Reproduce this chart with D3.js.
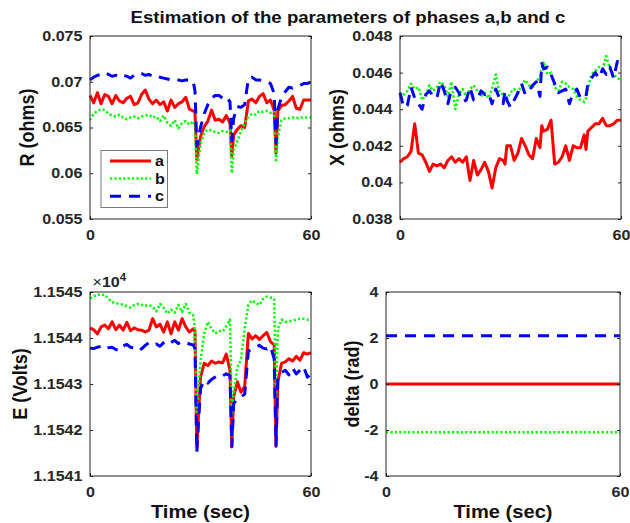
<!DOCTYPE html>
<html>
<head>
<meta charset="utf-8">
<script src="https://cdn.jsdelivr.net/npm/d3@7"></script>
<style>
  body { margin: 0; background: #fff; }
  svg { display: block; }
  text { font-family: "Liberation Sans", Arial, Helvetica, sans-serif; }
</style>
</head>
<body>
<svg id="chart" width="630" height="523"></svg>
<script>
// ---- sample times (sec) shared by the R, X and E estimates ----
const time = [0,1,2,3,4,5,6,7,8,9,10,11,12,13,14,15,16,17,18,19,20,21,22,23,24,25,26,27,28,28.5,
  29,30,31,32,33,34,35,36,37,38,38.5,39,40,41,42,43,44,45,46,47,48,49,50,50.5,51,52,53,54,55,56,57,58,59,60];

// ---- resistance R (ohms) per phase ----
const rA = [0.0685,0.0677,0.0688,0.0676,0.0686,0.0684,0.0676,0.0685,0.0679,0.0677,0.0682,0.0684,0.0675,0.0677,0.0686,
  0.0691,0.0681,0.0676,0.0680,0.0675,0.0678,0.0668,0.0680,0.0672,0.0676,0.0678,0.0683,0.0670,0.0668,0.0667,
  0.0615,0.0640,0.0651,0.0657,0.0669,0.0658,0.0659,0.0656,0.0663,0.0655,0.0619,
  0.0642,0.0648,0.0652,0.0650,0.0679,0.0681,0.0677,0.0684,0.0687,0.0677,0.0680,0.0669,0.0622,
  0.0668,0.0674,0.0675,0.0679,0.0684,0.0671,0.0670,0.0680,0.0680,0.0680];
const rB = [0.0658,0.0665,0.0668,0.0670,0.0669,0.0665,0.0663,0.0662,0.0664,0.0661,0.0659,0.0661,0.0662,0.0660,0.0662,
  0.0663,0.0664,0.0661,0.0662,0.0657,0.0663,0.0655,0.0652,0.0658,0.0649,0.0655,0.0657,0.0653,0.0657,0.0652,
  0.0599,0.0632,0.0644,0.0648,0.0647,0.0645,0.0644,0.0646,0.0645,0.0647,0.0600,
  0.0625,0.0635,0.0646,0.0655,0.0662,0.0665,0.0664,0.0668,0.0667,0.0668,0.0666,0.0668,0.0612,
  0.0640,0.0658,0.0660,0.0660,0.0661,0.0660,0.0661,0.0661,0.0661,0.0661];
const rC = [0.0702,0.0705,0.0707,0.0708,0.0710,0.0708,0.0706,0.0707,0.0705,0.0707,0.0706,0.0704,0.0707,0.0709,0.0709,
  0.0707,0.0708,0.0706,0.0707,0.0705,0.0704,0.0703,0.0702,0.0703,0.0702,0.0701,0.0702,0.0702,0.0701,0.0690,
  0.0630,0.0650,0.0665,0.0675,0.0682,0.0685,0.0685,0.0682,0.0684,0.0678,0.0636,
  0.0660,0.0673,0.0672,0.0675,0.0704,0.0705,0.0702,0.0702,0.0701,0.0700,0.0698,0.0687,0.0633,
  0.0670,0.0683,0.0689,0.0694,0.0693,0.0695,0.0696,0.0698,0.0698,0.0700];

// ---- reactance X (ohms) per phase ----
const xA = [0.0411,0.0413,0.0414,0.0417,0.0432,0.0416,0.0415,0.0411,0.0406,0.0410,0.0409,0.0410,0.0408,0.0412,0.0414,
  0.0411,0.0413,0.0411,0.0414,0.0401,0.0412,0.0404,0.0407,0.0411,0.0406,0.0397,0.0408,0.0413,0.0412,0.0410,
  0.0420,0.0420,0.0412,0.0416,0.0424,0.0420,0.0415,0.0413,0.0424,0.0419,0.0431,
  0.0428,0.0429,0.0434,0.0410,0.0411,0.0414,0.0420,0.0412,0.0420,0.0419,0.0419,0.0426,0.0418,
  0.0428,0.0430,0.0432,0.0432,0.0435,0.0431,0.0431,0.0432,0.0434,0.0434];
const xB = [0.0446,0.0448,0.0450,0.0454,0.0451,0.0452,0.0445,0.0448,0.0453,0.0450,0.0452,0.0455,0.0453,0.0447,0.0455,
  0.0440,0.0448,0.0451,0.0447,0.0451,0.0453,0.0450,0.0447,0.0449,0.0446,0.0451,0.0459,0.0449,0.0448,0.0446,
  0.0445,0.0449,0.0451,0.0449,0.0453,0.0456,0.0453,0.0452,0.0455,0.0458,0.0463,
  0.0466,0.0459,0.0460,0.0452,0.0450,0.0455,0.0454,0.0452,0.0451,0.0447,0.0445,0.0444,0.0446,
  0.0451,0.0459,0.0461,0.0463,0.0462,0.0469,0.0462,0.0459,0.0457,0.0456];
const xC = [0.0449,0.0441,0.0442,0.0452,0.0446,0.0443,0.0440,0.0448,0.0450,0.0447,0.0446,0.0455,0.0450,0.0443,0.0451,
  0.0452,0.0449,0.0444,0.0445,0.0452,0.0445,0.0445,0.0450,0.0448,0.0449,0.0443,0.0451,0.0446,0.0443,0.0450,
  0.0445,0.0441,0.0445,0.0449,0.0454,0.0448,0.0450,0.0453,0.0455,0.0447,0.0465,
  0.0462,0.0463,0.0459,0.0454,0.0449,0.0450,0.0451,0.0443,0.0449,0.0451,0.0446,0.0446,0.0447,
  0.0454,0.0457,0.0460,0.0457,0.0462,0.0459,0.0463,0.0457,0.0466,0.0466];

// ---- source voltage E (volts) per phase ----
const eA = [11544.22,11544.18,11544.09,11544.24,11544.28,11544.20,11544.35,11544.18,11544.28,11544.17,11544.34,11544.16,
  11544.22,11544.18,11544.17,11544.13,11544.17,11544.42,11544.24,11544.30,11544.13,11544.35,11544.09,11544.35,11544.17,
  11544.42,11544.24,11544.13,11544.20,11544.15,
  11541.62,11543.15,11543.45,11543.40,11543.50,11543.45,11543.48,11543.46,11543.65,11543.30,11541.63,
  11542.72,11543.05,11542.82,11542.95,11544.10,11543.98,11544.05,11543.97,11544.05,11544.12,11543.92,11543.85,11541.64,
  11543.05,11543.45,11543.48,11543.55,11543.50,11543.60,11543.52,11543.68,11543.65,11543.68];
const eB = [11544.86,11544.90,11544.95,11544.93,11544.94,11544.86,11544.78,11544.76,11544.74,11544.72,11544.69,11544.66,
  11544.72,11544.74,11544.72,11544.70,11544.72,11544.68,11544.58,11544.74,11544.66,11544.53,11544.62,11544.55,11544.72,
  11544.56,11544.74,11544.55,11544.50,11544.20,
  11542.30,11543.50,11544.10,11544.35,11544.20,11544.10,11544.15,11544.14,11544.25,11544.40,11542.36,
  11542.80,11543.35,11543.55,11544.20,11544.72,11544.82,11544.76,11544.72,11544.85,11544.90,11544.88,11544.85,11542.72,
  11544.20,11544.40,11544.35,11544.36,11544.38,11544.40,11544.42,11544.42,11544.40,11544.38];
const eC = [11543.78,11543.77,11543.80,11543.82,11543.76,11543.79,11543.80,11543.75,11543.73,11543.83,11543.86,11543.80,
  11543.78,11543.82,11543.76,11543.84,11543.90,11543.85,11543.87,11543.82,11543.90,11543.95,11543.90,11543.95,11543.88,
  11543.92,11543.90,11543.87,11543.85,11543.78,
  11541.52,11542.90,11543.08,11543.02,11543.10,11543.15,11543.20,11543.18,11543.22,11543.18,11541.64,
  11542.57,11542.68,11542.72,11542.78,11543.72,11543.75,11543.80,11543.84,11543.78,11543.76,11543.82,11543.55,11541.66,
  11543.15,11543.25,11543.30,11543.20,11543.35,11543.22,11543.30,11543.38,11543.15,11543.22];

// ---- phase angle delta (rad) per phase ----
const deltaTime = [0, 60];
const deltaA = [0, 0];
const deltaB = [-2.0944, -2.0944];
const deltaC = [2.0944, 2.0944];

// ---- axis ticks ----
const timeTicks = [0, 60];
const timeTickLabels = ["0", "60"];
const rTicks = [0.055, 0.06, 0.065, 0.07, 0.075];
const rTickLabels = ["0.055", "0.06", "0.065", "0.07", "0.075"];
const xTicks = [0.038, 0.04, 0.042, 0.044, 0.046, 0.048];
const xTickLabels = ["0.038", "0.04", "0.042", "0.044", "0.046", "0.048"];
const eTicks = [11541, 11542, 11543, 11544, 11545];
const eTickLabels = ["1.1541", "1.1542", "1.1543", "1.1544", "1.1545"];
const deltaTicks = [-4, -2, 0, 2, 4];
const deltaTickLabels = ["-4", "-2", "0", "2", "4"];

const phases = ["a", "b", "c"];

// ---- appearance ----
const SX = 1.15;               // horizontal text stretch
const INK = "#262626";
const phaseStyle = {
  a: { color: "#ff0000", width: 3,   dash: null },
  b: { color: "#00ff00", width: 2.5, dash: "2.2,2.2" },
  c: { color: "#0000ff", width: 3,   dash: "11,8" }
};

const svg = d3.select("#chart");

function stretch(sel) {
  sel.each(function () {
    const t = d3.select(this);
    const x = +t.attr("x") || 0, y = +t.attr("y") || 0;
    t.attr("x", null).attr("y", null)
     .attr("transform", `translate(${x},${y}) scale(${SX},1)`);
  });
}

const panels = [
  { box: [90, 311, 36, 219], domain: [0.055, 0.075], ticks: rTicks, labels: rTickLabels,
    ylabel: "R (ohms)", ylabelX: 27, times: time, series: [rA, rB, rC], legend: true },
  { box: [400, 621, 36, 219], domain: [0.038, 0.048], ticks: xTicks, labels: xTickLabels,
    ylabel: "X (ohms)", ylabelX: 337, times: time, series: [xA, xB, xC] },
  { box: [90, 311, 292, 476], domain: [11541, 11545], ticks: eTicks, labels: eTickLabels,
    ylabel: "E (Volts)", ylabelX: 20, times: time, series: [eA, eB, eC], xlabel: true, exponent: true },
  { box: [386, 620, 292, 476], domain: [-4, 4], ticks: deltaTicks, labels: deltaTickLabels,
    ylabel: "delta (rad)", ylabelX: 352, times: deltaTime, series: [deltaA, deltaB, deltaC], xlabel: true }
];

panels.forEach(p => {
  const [x0, x1, y0, y1] = p.box;
  const xs = d3.scaleLinear().domain([0, 60]).range([x0, x1]);
  const ys = d3.scaleLinear().domain(p.domain).range([y1, y0]);
  const g = svg.append("g");

  // data lines
  const line = d3.line().x(d => xs(d[0])).y(d => ys(d[1]));
  p.series.forEach((vals, i) => {
    const st = phaseStyle[phases[i]];
    g.append("path")
      .datum(d3.zip(p.times, vals))
      .attr("d", line)
      .attr("fill", "none")
      .attr("stroke", st.color)
      .attr("stroke-width", st.width)
      .attr("stroke-linejoin", "round")
      .attr("stroke-dasharray", st.dash);
  });

  // axes
  const yAxis = d3.axisLeft(ys).tickValues(p.ticks)
    .tickFormat((d, i) => p.labels[i]).tickSize(-3).tickPadding(7.5);
  const ya = g.append("g").attr("transform", `translate(${x0},0)`).call(yAxis);
  const yr = g.append("g").attr("transform", `translate(${x1},0)`)
    .call(d3.axisRight(ys).tickValues(p.ticks).tickFormat("").tickSize(-3));
  const xAxis = d3.axisBottom(xs).tickValues(timeTicks)
    .tickFormat((d, i) => timeTickLabels[i]).tickSize(-3).tickPadding(11);
  const xa = g.append("g").attr("transform", `translate(0,${y1})`).call(xAxis);
  const xt = g.append("g").attr("transform", `translate(0,${y0})`)
    .call(d3.axisTop(xs).tickValues(timeTicks).tickFormat("").tickSize(-3));

  [ya, yr, xa, xt].forEach(a => {
    a.select(".domain").remove();
    a.selectAll("line").attr("stroke", INK);
    a.selectAll("text")
      .attr("fill", INK)
      .style("font-size", "14px")
      .style("font-weight", "bold");
  });
  stretch(ya.selectAll("text"));
  stretch(xa.selectAll("text"));

  // frame
  g.append("rect")
    .attr("x", x0).attr("y", y0)
    .attr("width", x1 - x0).attr("height", y1 - y0)
    .attr("fill", "none").attr("stroke", INK).attr("stroke-width", 1);

  // y label (rotated; thickened across its width like the other text)
  g.append("text")
    .attr("transform", `translate(${p.ylabelX},${(y0 + y1) / 2}) rotate(-90) scale(1,${SX})`)
    .attr("text-anchor", "middle")
    .attr("dominant-baseline", "central")
    .style("font-size", "18px").style("font-weight", "bold")
    .attr("fill", "#111")
    .text(p.ylabel);

  if (p.xlabel) {
    g.append("text")
      .attr("transform", `translate(${(x0 + x1) / 2},518) scale(${SX},1)`)
      .attr("text-anchor", "middle")
      .style("font-size", "17.5px").style("font-weight", "bold")
      .attr("fill", "#111")
      .text("Time (sec)");
  }

  if (p.exponent) {
    const t = g.append("text")
      .attr("transform", `translate(${x0 + 2.5},${y0 - 5.5}) scale(${SX},1)`)
      .attr("fill", INK)
      .style("font-size", "14px");
    t.append("tspan").text("×").style("font-weight", "normal");
    t.append("tspan").text("10").style("font-weight", "bold");
    t.append("tspan").text("4").attr("dy", -6).style("font-size", "10px").style("font-weight", "bold");
  }

  if (p.legend) {
    const lg = g.append("g");
    lg.append("rect")
      .attr("x", 101).attr("y", 150.5).attr("width", 66.5).attr("height", 57)
      .attr("fill", "#fff").attr("stroke", "#7a7a7a").attr("stroke-width", 1);
    phases.forEach((ph, i) => {
      const st = phaseStyle[ph];
      const cy = 161 + i * 17.6;
      lg.append("line")
        .attr("x1", 110).attr("x2", 151).attr("y1", cy).attr("y2", cy)
        .attr("stroke", st.color).attr("stroke-width", st.width)
        .attr("stroke-dasharray", st.dash);
      lg.append("text")
        .attr("transform", `translate(155,${cy + 5}) scale(${SX},1)`)
        .style("font-size", "14px").style("font-weight", "bold")
        .attr("fill", "#111")
        .text(ph);
    });
  }
});

// figure title
svg.append("text")
  .attr("transform", `translate(348,23) scale(1.13,1)`)
  .attr("text-anchor", "middle")
  .style("font-size", "16.5px").style("font-weight", "bold")
  .attr("fill", "#111")
  .text("Estimation of the parameters of phases a,b and c");
</script>
</body>
</html>
